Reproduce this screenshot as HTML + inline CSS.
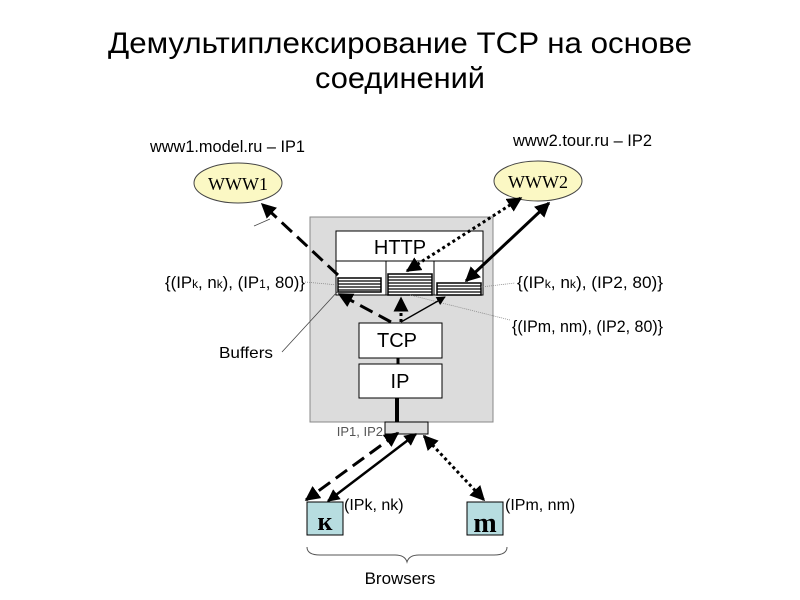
<!DOCTYPE html>
<html><head><meta charset="utf-8"><style>
html,body{margin:0;padding:0;background:#fff;}
svg{display:block;font-family:"Liberation Sans",sans-serif;}
</style></head><body>
<svg width="800" height="600" viewBox="0 0 800 600" xmlns="http://www.w3.org/2000/svg">
<defs>
<marker id="a" viewBox="0 0 10 10" refX="9" refY="5" markerWidth="5" markerHeight="5" orient="auto-start-reverse"><path d="M0,0 L10,5 L0,10 z" fill="#000"/></marker>
<marker id="s" viewBox="0 0 10 10" refX="9" refY="5" markerWidth="7" markerHeight="7" orient="auto-start-reverse"><path d="M0,0 L10,5 L0,10 z" fill="#000"/></marker>
</defs>
<text x="400" y="53" font-size="30" text-anchor="middle" textLength="584" lengthAdjust="spacingAndGlyphs">Демультиплексирование TCP на основе</text>
<text x="400" y="88" font-size="30" text-anchor="middle" textLength="170" lengthAdjust="spacingAndGlyphs">соединений</text>

<text x="150" y="152" font-size="17" textLength="155" lengthAdjust="spacingAndGlyphs">www1.model.ru – IP1</text>
<text x="513" y="146" font-size="17" textLength="139" lengthAdjust="spacingAndGlyphs">www2.tour.ru – IP2</text>
<ellipse cx="238" cy="183" rx="44" ry="20" fill="#fbf8c4" stroke="#444"/>
<text x="238" y="190" font-family="Liberation Serif,serif" font-size="18" text-anchor="middle">WWW1</text>
<ellipse cx="538" cy="181" rx="44" ry="20" fill="#fbf8c4" stroke="#444"/>
<text x="538" y="188" font-family="Liberation Serif,serif" font-size="18" text-anchor="middle">WWW2</text>

<rect x="310" y="217" width="183" height="205" fill="#dcdcdc" stroke="#888"/>
<rect x="336" y="231" width="147" height="64" fill="#fff" stroke="#000"/>
<line x1="336" y1="261" x2="483" y2="261" stroke="#000"/>
<line x1="386" y1="261" x2="386" y2="295" stroke="#000"/>
<line x1="434" y1="261" x2="434" y2="295" stroke="#000"/>
<text x="400" y="254" font-size="20" text-anchor="middle">HTTP</text>
<g fill="#fff" stroke="#000" stroke-width="1.5">
<rect x="338" y="278" width="43" height="14"/>
<rect x="388" y="274" width="44" height="21"/>
<rect x="437" y="283" width="44" height="12"/>
</g>
<g stroke="#000" stroke-width="1.3">
<line x1="338" y1="281" x2="381" y2="281"/><line x1="338" y1="284" x2="381" y2="284"/><line x1="338" y1="287" x2="381" y2="287"/><line x1="338" y1="290" x2="381" y2="290"/>
<line x1="388" y1="277" x2="432" y2="277"/><line x1="388" y1="280" x2="432" y2="280"/><line x1="388" y1="283" x2="432" y2="283"/><line x1="388" y1="286" x2="432" y2="286"/><line x1="388" y1="289" x2="432" y2="289"/><line x1="388" y1="292" x2="432" y2="292"/>
<line x1="437" y1="286" x2="481" y2="286"/><line x1="437" y1="289" x2="481" y2="289"/><line x1="437" y1="292" x2="481" y2="292"/>
</g>
<rect x="359" y="323" width="83" height="35" fill="#fff" stroke="#000"/>
<text x="397" y="347" font-size="20" text-anchor="middle">TCP</text>
<rect x="359" y="364" width="83" height="34" fill="#fff" stroke="#000"/>
<text x="400" y="388" font-size="20" text-anchor="middle">IP</text>
<line x1="398" y1="358" x2="398" y2="364" stroke="#000" stroke-width="3"/>
<line x1="397" y1="398" x2="397" y2="422" stroke="#000" stroke-width="4"/>
<rect x="385" y="422" width="43" height="12" fill="#dcdcdc" stroke="#000"/>
<text x="383" y="436" font-size="13" fill="#555" text-anchor="end">IP1, IP2</text>

<g stroke="#888" stroke-width="0.8" stroke-dasharray="1,1">
<line x1="305" y1="282" x2="338" y2="285"/>
<line x1="481" y1="287" x2="515" y2="283"/>
<line x1="410" y1="295" x2="510" y2="320"/>
</g>
<line x1="282" y1="352" x2="338" y2="291" stroke="#444" stroke-width="0.8"/>
<line x1="254" y1="226" x2="270" y2="219" stroke="#444" stroke-width="0.8"/>

<line x1="338" y1="275" x2="262" y2="204" stroke="#000" stroke-width="3" stroke-dasharray="14,7" marker-end="url(#a)"/>
<line x1="466" y1="281" x2="549" y2="203" stroke="#000" stroke-width="3" marker-start="url(#a)" marker-end="url(#a)"/>
<line x1="407" y1="271" x2="521" y2="198" stroke="#000" stroke-width="3" stroke-dasharray="3,3" marker-start="url(#a)" marker-end="url(#a)"/>
<line x1="391" y1="322" x2="339" y2="294" stroke="#000" stroke-width="3" stroke-dasharray="14,7" marker-end="url(#a)"/>
<line x1="401" y1="322" x2="401" y2="298" stroke="#000" stroke-width="3" stroke-dasharray="3,3" marker-end="url(#a)"/>
<line x1="401" y1="322" x2="445" y2="297" stroke="#000" stroke-width="1.3" marker-end="url(#s)"/>

<line x1="398" y1="433" x2="306" y2="500" stroke="#000" stroke-width="3" stroke-dasharray="14,7" marker-start="url(#a)" marker-end="url(#a)"/>
<line x1="416" y1="434" x2="328" y2="501" stroke="#000" stroke-width="2.5" marker-start="url(#a)" marker-end="url(#a)"/>
<line x1="424" y1="436" x2="484" y2="500" stroke="#000" stroke-width="3" stroke-dasharray="3,3" marker-start="url(#a)" marker-end="url(#a)"/>

<rect x="307" y="502" width="36" height="33" fill="#b7dde0" stroke="#000"/>
<text x="325" y="530" font-family="Liberation Serif,serif" font-size="26" font-weight="bold" text-anchor="middle">к</text>
<rect x="467" y="502" width="36" height="33" fill="#b7dde0" stroke="#000"/>
<text x="485" y="532" font-family="Liberation Serif,serif" font-size="28" font-weight="bold" text-anchor="middle">m</text>
<text x="344" y="510" font-size="16">(IPk, nk)</text>
<text x="505" y="510" font-size="16">(IPm, nm)</text>
<path d="M307,547 Q307,555 320,555 L395,555 Q405,555 407,562 Q409,555 419,555 L494,555 Q507,555 507,547" fill="none" stroke="#555"/>
<text x="400" y="584" font-size="17" text-anchor="middle">Browsers</text>

<text x="165" y="288" font-size="17" textLength="140" lengthAdjust="spacingAndGlyphs">{(IP<tspan font-size="12">k</tspan>, n<tspan font-size="12">k</tspan>), (IP<tspan font-size="12">1</tspan>, 80)}</text>
<text x="517" y="288" font-size="17" textLength="146" lengthAdjust="spacingAndGlyphs">{(IP<tspan font-size="12">k</tspan>, n<tspan font-size="12">k</tspan>), (IP2, 80)}</text>
<text x="512" y="332" font-size="17" textLength="151" lengthAdjust="spacingAndGlyphs">{(IPm, nm), (IP2, 80)}</text>
<text x="219" y="358" font-size="16" textLength="54" lengthAdjust="spacingAndGlyphs">Buffers</text>
</svg>
</body></html>
